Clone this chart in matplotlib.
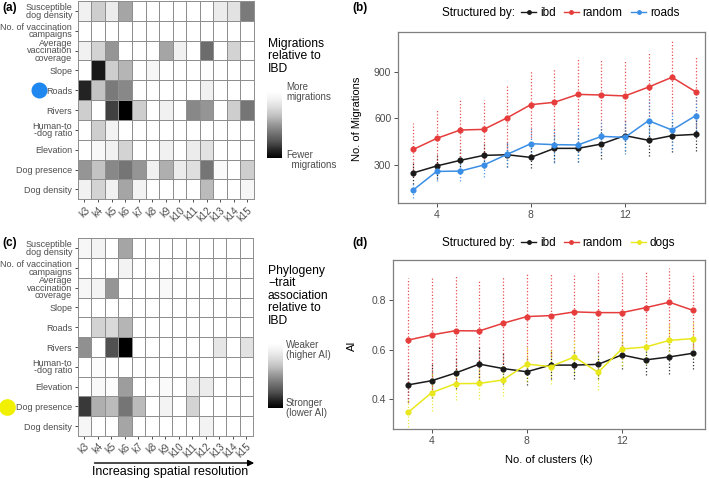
"""
Covariate-structured migration / AI figure: two heatmaps + two line panels
"""

import matplotlib
matplotlib.use("Agg")

import matplotlib.pyplot as plt
from matplotlib.lines import Line2D

plt.rcParams["font.family"] = ["Liberation Sans", "DejaVu Sans"]

W, H = 709, 478

# --- data ---
ks = list(range(3, 16))
k_labels = [f"k{k}" for k in ks]
covariates = [
    "Susceptible\ndog density",
    "No. of vaccination\ncampaigns",
    "Average\nvaccination\ncoverage",
    "Slope",
    "Roads",
    "Rivers",
    "Human-to\n-dog ratio",
    "Elevation",
    "Dog presence",
    "Dog density",
]

# shading 0 = white, 1 = black (k3 .. k15)
mig_shade = [
    [0.12, 0.30, 0.15, 0.45, 0, 0, 0, 0, 0, 0, 0.15, 0.20, 0.60],
    [0, 0, 0, 0, 0, 0, 0, 0, 0, 0, 0, 0, 0],
    [0.12, 0.28, 0.50, 0, 0, 0, 0.45, 0.12, 0, 0.65, 0, 0.28, 0],
    [0, 0.92, 0.30, 0.40, 0, 0.08, 0, 0, 0, 0.02, 0, 0, 0],
    [0.88, 0.35, 0.60, 0.55, 0, 0, 0, 0, 0, 0.12, 0, 0, 0],
    [0.30, 0, 0.80, 1.00, 0.30, 0, 0.12, 0, 0.55, 0.50, 0, 0.30, 0.62],
    [0, 0.30, 0.10, 0, 0, 0, 0, 0, 0, 0, 0, 0, 0],
    [0, 0.06, 0.12, 0.28, 0, 0, 0.12, 0, 0.15, 0.20, 0, 0, 0],
    [0.50, 0.35, 0.55, 0.62, 0.50, 0.12, 0.42, 0.15, 0.22, 0.62, 0.04, 0, 0.30],
    [0.12, 0.28, 0.12, 0.45, 0.10, 0, 0, 0, 0, 0.38, 0, 0, 0.08],
]
ai_shade = [
    [0.07, 0.10, 0, 0.45, 0, 0, 0, 0, 0, 0, 0, 0, 0],
    [0, 0, 0, 0.10, 0, 0, 0, 0, 0, 0, 0, 0, 0],
    [0.07, 0.10, 0.50, 0, 0, 0, 0.05, 0, 0, 0, 0, 0, 0],
    [0, 0, 0, 0, 0, 0, 0, 0, 0, 0, 0, 0, 0],
    [0, 0.28, 0.25, 0.40, 0, 0, 0, 0, 0, 0, 0, 0, 0],
    [0.52, 0, 0.75, 1.00, 0, 0, 0, 0, 0, 0, 0.18, 0, 0.20],
    [0, 0.03, 0, 0, 0, 0, 0, 0, 0, 0, 0, 0, 0],
    [0, 0.05, 0.03, 0.48, 0, 0, 0.04, 0, 0.15, 0.15, 0, 0, 0],
    [0.82, 0.42, 0.38, 0.62, 0.38, 0, 0.10, 0, 0.28, 0, 0, 0, 0],
    [0.08, 0, 0, 0.45, 0, 0, 0, 0, 0, 0.10, 0, 0, 0],
]

mig_ibd = [249, 294, 330, 362, 366, 349, 407, 407, 435, 489, 459, 489, 497]
mig_ibd_sd = [72, 85, 80, 80, 80, 70, 90, 90, 95, 100, 100, 105, 110]
mig_random = [400, 471, 525, 529, 604, 688, 703, 754, 750, 744, 801, 864, 771]
mig_random_sd = [168, 183, 193, 189, 204, 216, 214, 225, 225, 225, 228, 235, 225]
mig_roads = [139, 259, 261, 300, 369, 437, 431, 429, 484, 478, 585, 525, 617]
mig_roads_sd = [50, 60, 65, 75, 80, 100, 115, 110, 105, 105, 140, 120, 140]

ai_ibd = [0.457, 0.474, 0.505, 0.541, 0.523, 0.510, 0.537, 0.537, 0.540, 0.578, 0.558, 0.570, 0.585]
ai_ibd_sd = [0.07, 0.07, 0.065, 0.07, 0.062, 0.055, 0.055, 0.055, 0.058, 0.055, 0.06, 0.068, 0.065]
ai_random = [0.638, 0.659, 0.676, 0.675, 0.706, 0.733, 0.737, 0.752, 0.749, 0.749, 0.769, 0.791, 0.758]
ai_random_sd = [0.25, 0.235, 0.22, 0.20, 0.19, 0.175, 0.167, 0.158, 0.16, 0.16, 0.15, 0.14, 0.15]
ai_dogs = [0.346, 0.426, 0.462, 0.463, 0.477, 0.541, 0.531, 0.570, 0.508, 0.602, 0.610, 0.637, 0.644]
ai_dogs_sd = [0.06, 0.075, 0.065, 0.065, 0.065, 0.07, 0.07, 0.07, 0.07, 0.07, 0.07, 0.07, 0.07]

BLACK = "#1a1a1a"
RED = "#e63c3c"
BLUE = "#3a8ee6"
YELLOW = "#e8e81c"
TXT = "#4d4d4d"


def px(l, t, r, b):
    """pixel box -> figure fraction [left, bottom, width, height]"""
    return [l / W, 1 - b / H, (r - l) / W, (b - t) / H]


def draw_heat(ax, shade):
    mesh = ax.pcolormesh(shade, cmap="Greys", vmin=0, vmax=1,
                         edgecolors="#8f8f8f", linewidth=0.7)
    ax.set_xlim(0, len(ks))
    ax.set_ylim(len(covariates), 0)
    ax.set_xticks([i + 0.5 for i in range(len(ks))])
    ax.set_xticklabels(k_labels, rotation=45, ha="right", rotation_mode="anchor",
                       fontsize=7, color=TXT)
    ax.set_yticks([i + 0.5 for i in range(len(covariates))])
    ax.set_yticklabels(covariates, fontsize=6.5, color=TXT, linespacing=0.8)
    ax.tick_params(length=2.5, width=0.6, color="#333333", pad=1.5)
    for s in ax.spines.values():
        s.set_color("#8f8f8f")
        s.set_linewidth(0.7)
    return mesh


def draw_lines(ax, series):
    for name, vals, sd, col in series:
        lo = [v - s for v, s in zip(vals, sd)]
        hi = [v + s for v, s in zip(vals, sd)]
        ax.vlines(ks, lo, hi, colors=col, linestyles=(0, (1, 1.6)), linewidth=0.9, alpha=0.9)
    for name, vals, sd, col in series:
        ax.plot(ks, vals, color=col, linewidth=1.1, marker="o", markersize=3.4)
    ax.set_xticks([4, 8, 12])
    ax.tick_params(labelsize=7.5, labelcolor=TXT, length=3, width=0.6, color="#333333", pad=2)
    for s in ax.spines.values():
        s.set_color("#7f7f7f")
        s.set_linewidth(0.9)


def add_legend(fig, y, series):
    fig.text(442 / W, 1 - y / H, "Structured by:", fontsize=8.5, va="center", ha="left")
    handles = [Line2D([], [], color=col, marker="o", markersize=2.5, linewidth=1.0)
               for _, _, _, col in series]
    fig.legend(handles, [s[0] for s in series], loc="center left",
               bbox_to_anchor=(521 / W, 1 - y / H), ncol=len(series), frameon=False,
               fontsize=8.5, handlelength=1.3, handletextpad=0.3, columnspacing=0.7,
               borderpad=0, borderaxespad=0)


fig = plt.figure(figsize=(W / 100, H / 100), dpi=100)

# (a) heatmap
ax_a = fig.add_axes(px(77.7, 1, 254, 199.3))
mesh_a = draw_heat(ax_a, mig_shade)
cax_a = fig.add_axes(px(267.3, 91.7, 281.7, 158.3))
cb = fig.colorbar(mesh_a, cax=cax_a)
cax_a.invert_yaxis()
cb.set_ticks([])
cb.outline.set_visible(False)
fig.text(267.7 / W, 1 - 38 / H, "Migrations\nrelative to\nIBD", fontsize=8.7,
         va="top", ha="left", linespacing=1.05)
fig.text(286 / W, 1 - 91.5 / H, "More\nmigrations", fontsize=7, va="center",
         ha="left", color=TXT, linespacing=1.0)
fig.text(286 / W, 1 - 159.5 / H, "Fewer\n  migrations", fontsize=7, va="center",
         ha="left", color=TXT, linespacing=1.0)

# (c) heatmap
ax_c = fig.add_axes(px(77.7, 238.3, 253, 436))
mesh_c = draw_heat(ax_c, ai_shade)
cax_c = fig.add_axes(px(268, 343, 283, 408))
cb = fig.colorbar(mesh_c, cax=cax_c)
cax_c.invert_yaxis()
cb.set_ticks([])
cb.outline.set_visible(False)
fig.text(268 / W, 1 - 265 / H, "Phylogeny\n\u2212trait\nassociation\nrelative to\nIBD",
         fontsize=8.7, va="top", ha="left", linespacing=1.05)
fig.text(286 / W, 1 - 350 / H, "Weaker\n(higher AI)", fontsize=7, va="center",
         ha="left", color=TXT, linespacing=1.0)
fig.text(286 / W, 1 - 408 / H, "Stronger\n(lower AI)", fontsize=7, va="center",
         ha="left", color=TXT, linespacing=1.0)

# arrow + caption under (c)
fig.add_artist(matplotlib.patches.FancyArrowPatch(
    (91.7 / W, 1 - 463 / H), (257 / W, 1 - 463 / H), transform=fig.transFigure,
    arrowstyle="-|>", mutation_scale=9, color="black", linewidth=1.0))
fig.text(170 / W, 1 - 472 / H, "Increasing spatial resolution", fontsize=9,
         ha="center", va="center")

# highlighted covariates
fig.add_artist(Line2D([39.3 / W], [1 - 90 / H], marker="o", markersize=10.5,
                      color="#1e88f0", linestyle="none", transform=fig.transFigure))
fig.add_artist(Line2D([7.3 / W], [1 - 406.7 / H], marker="o", markersize=11,
                      color="#f0f000", linestyle="none", transform=fig.transFigure))

# (b) migrations
series_b = [
    ("ibd", mig_ibd, mig_ibd_sd, BLACK),
    ("random", mig_random, mig_random_sd, RED),
    ("roads", mig_roads, mig_roads_sd, BLUE),
]
ax_b = fig.add_axes(px(398.3, 32.3, 705, 203.3))
draw_lines(ax_b, series_b)
ax_b.set_xlim(2.37, 15.4)
ax_b.set_ylim(54, 1153)
ax_b.set_yticks([300, 600, 900])
fig.text(356.7 / W, 1 - 119 / H, "No. of Migrations", rotation=90, fontsize=8,
         ha="center", va="center")
add_legend(fig, 13, series_b)

# (d) AI
series_d = [
    ("ibd", ai_ibd, ai_ibd_sd, BLACK),
    ("random", ai_random, ai_random_sd, RED),
    ("dogs", ai_dogs, ai_dogs_sd, YELLOW),
]
ax_d = fig.add_axes(px(393.3, 260, 705, 429.3))
draw_lines(ax_d, series_d)
ax_d.set_xlim(2.38, 15.5)
ax_d.set_ylim(0.2776, 0.9616)
ax_d.set_yticks([0.4, 0.6, 0.8])
ax_d.set_yticklabels(["0.4", "0.6", "0.8"])
fig.text(351.5 / W, 1 - 346 / H, "AI", rotation=90, fontsize=8, ha="center", va="center")
fig.text(549 / W, 1 - 460 / H, "No. of clusters (k)", fontsize=8, ha="center", va="center")
add_legend(fig, 243, series_d)

# panel tags
for x, y, tag in [(2, 8, "(a)"), (352, 8, "(b)"), (2, 243, "(c)"), (352, 243, "(d)")]:
    fig.text(x / W, 1 - y / H, tag, fontsize=8.5, fontweight="bold", ha="left", va="center")

fig.savefig("out.png", dpi=100)
plt.close(fig)
